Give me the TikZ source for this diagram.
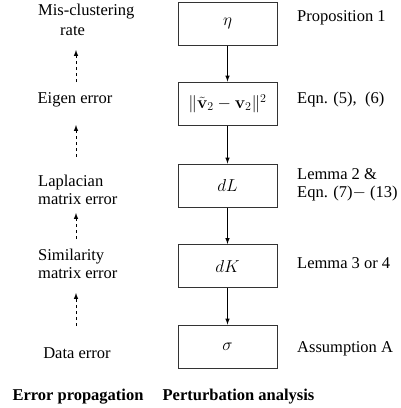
\documentclass[tikz,border=0pt]{standalone}
\usepackage[no-math]{fontspec}
\setmainfont{Liberation Serif}
\usepackage{amsmath,amssymb}
\begin{document}
\begin{tikzpicture}[x=1pt,y=-1pt,font=\fontsize{16.5}{18.5}\selectfont]
        \tikzstyle{block}=[rectangle,draw=black!80,line width=1pt,
        minimum width=99pt,minimum height=43pt,inner sep=0pt]
        \tikzstyle{note}=[anchor=west,align=left,inner sep=0pt]
        \tikzstyle{flow}=[line width=1pt,-latex]
        \tikzstyle{back}=[line width=1pt,-latex,dash pattern=on 3pt off 3pt]
        \useasboundingbox (0,0) rectangle (401,408);
        % perturbation chain
        \node at (227.5,23.5) [block] (eta) {$\eta$};
        \node at (227.5,103.5) [block] (eigv) {$\|\tilde{\mathbf{v}}_2-\mathbf{v}_2\|^2$};
        \node at (227.5,185.5) [block] (dL) {$dL$};
        \node at (227.5,266) [block] (dK) {$dK$};
        \node at (227.5,346.5) [block] (sigma) {$\sigma$};
        \draw[flow] (eta) -- (eigv);
        \draw[flow] (eigv) -- (dL);
        \draw[flow] (dL) -- (dK);
        \draw[flow] (dK) -- (sigma);
        % references on the right
        \node at (297,18) [note] (prop) {Proposition 1};
        \node at (297,100) [note] (eqn) {Eqn. (5),\ \ (6)};
        \node at (297,185) [note] (lemtwo) {Lemma 2 \&\\Eqn. (7)$-$ (13)};
        \node at (297,263) [note] (lemthree) {Lemma 3 or 4};
        \node at (297,349) [note] (assum) {Assumption A};
        % error names on the left
        \node at (38,20) [note] (mis) {Mis-clustering\\[2pt]\hspace*{22pt}rate};
        \node at (75,100) [inner sep=0pt] (eigerr) {Eigen error};
        \node at (38,190) [note] (laperr) {Laplacian\\matrix error};
        \node at (38,264) [note] (simerr) {Similarity\\matrix error};
        \node at (77,353) [inner sep=0pt] (dataerr) {Data error};
        \coordinate (up1a) at (76,82);
        \coordinate (up1b) at (76,50);
        \coordinate (up2a) at (76,157);
        \coordinate (up2b) at (76,125);
        \coordinate (up3a) at (76,239);
        \coordinate (up3b) at (76,213);
        \coordinate (up4a) at (76,326);
        \coordinate (up4b) at (76,293);
        \draw[back] (up1a) -- (up1b);
        \draw[back] (up2a) -- (up2b);
        \draw[back] (up3a) -- (up3b);
        \draw[back] (up4a) -- (up4b);
        % column titles
        \node at (78,397) [inner sep=0pt] (errprop) {\textbf{Error propagation}};
        \node at (238.5,397) [inner sep=0pt] (pert) {\textbf{Perturbation analysis}};
      \end{tikzpicture}
\end{document}
